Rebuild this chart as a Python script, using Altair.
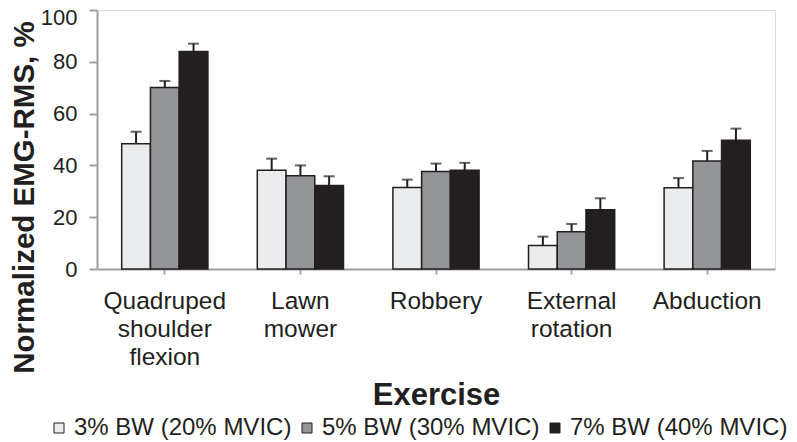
import altair as alt
import pandas as pd

exercises = ["Quadruped shoulder flexion", "Lawn mower", "Robbery", "External rotation", "Abduction"]
loads = ["3% BW (20% MVIC)", "5% BW (30% MVIC)", "7% BW (40% MVIC)"]
means_3 = [48.4, 38.1, 31.5, 9.1, 31.4]
means_5 = [70.1, 36.0, 37.6, 14.4, 41.7]
means_7 = [84.0, 32.2, 38.1, 22.9, 49.7]
err_3 = [4.6, 4.5, 3.0, 3.4, 3.7]
err_5 = [2.5, 4.0, 3.1, 3.0, 3.9]
err_7 = [3.0, 3.6, 2.9, 4.4, 4.5]
colors = ["#ebeced", "#939598", "#231f20"]
y_ticks = [0, 20, 40, 60, 80, 100]

rows = []
for load, means, errs in zip(loads, [means_3, means_5, means_7], [err_3, err_5, err_7]):
    for ex, m, e in zip(exercises, means, errs):
        rows.append({"exercise": ex, "load": load, "mean": m, "top": m + e})
df = pd.DataFrame(rows)

DARK = "#231f20"
GRAY = "#a0a0a0"
FONT = "Liberation Sans"

x_enc = alt.X(
    "exercise:N", sort=exercises,
    scale=alt.Scale(paddingInner=0, paddingOuter=0),
    axis=alt.Axis(
        title="Exercise", labelAngle=0, labelExpr="split(datum.label, ' ')",
        labelFontSize=24.5, labelLineHeight=28, labelColor=DARK, labelPadding=15,
        labelFont=FONT, tickSize=5, tickColor=GRAY, tickWidth=2,
        domainColor=GRAY, domainWidth=2,
        titleFontSize=31, titleFontWeight="bold", titleColor=DARK, titleFont=FONT,
        titleX=339, titleY=135, titleAlign="center", titleBaseline="alphabetic",
    ),
)
xo_enc = alt.XOffset("load:N", sort=loads, scale=alt.Scale(paddingInner=0, paddingOuter=0.86))

y_axis = alt.Axis(
    title="Normalized EMG-RMS, %", values=y_ticks, grid=False,
    domainColor=GRAY, domainWidth=2, tickColor=GRAY, tickWidth=2, tickSize=8,
    labelFontSize=22, labelColor=DARK, labelPadding=12, labelFont=FONT,
    labelOffset={"condition": {"test": "datum.value == 100", "value": 7}, "value": 0},
    titleFontSize=29.5, titleFontWeight="bold", titleColor=DARK, titleFont=FONT,
    titleX=-64, titleY=187, titleAngle=270, titleAlign="center", titleBaseline="alphabetic",
)
y_scale = alt.Scale(domain=[0, 100], nice=False)

bars = alt.Chart(df).mark_bar(stroke=DARK, strokeWidth=1.5).encode(
    x=x_enc, xOffset=xo_enc,
    y=alt.Y("mean:Q", scale=y_scale, axis=y_axis),
    color=alt.Color(
        "load:N", sort=loads, scale=alt.Scale(domain=loads, range=colors),
        legend=alt.Legend(
            title=None, orient="none", legendX=-50, legendY=406, direction="horizontal",
            columns=3, symbolType="square", symbolSize=100, symbolStrokeColor=DARK,
            symbolStrokeWidth=1, labelFontSize=24, labelColor=DARK, labelFont=FONT,
            labelOffset=3, columnPadding=3, labelLimit=400, padding=0,
        ),
    ),
)

rules = alt.Chart(df).mark_rule(color=DARK, strokeWidth=2).encode(
    x=x_enc, xOffset=xo_enc,
    y=alt.Y("mean:Q", scale=y_scale, axis=y_axis),
    y2="top:Q",
)

caps = alt.Chart(df).mark_tick(color=DARK, size=11, thickness=2).encode(
    x=x_enc, xOffset=xo_enc,
    y=alt.Y("top:Q", scale=y_scale, axis=y_axis),
)

chart = alt.layer(bars, rules, caps).properties(
    width=678, height=259, autosize="none",
    padding={"left": 89, "top": 2, "right": 14, "bottom": 173},
).configure_view(stroke=None).configure(font=FONT)

chart.save("out.html", embed_options={"renderer": "svg", "actions": False})
